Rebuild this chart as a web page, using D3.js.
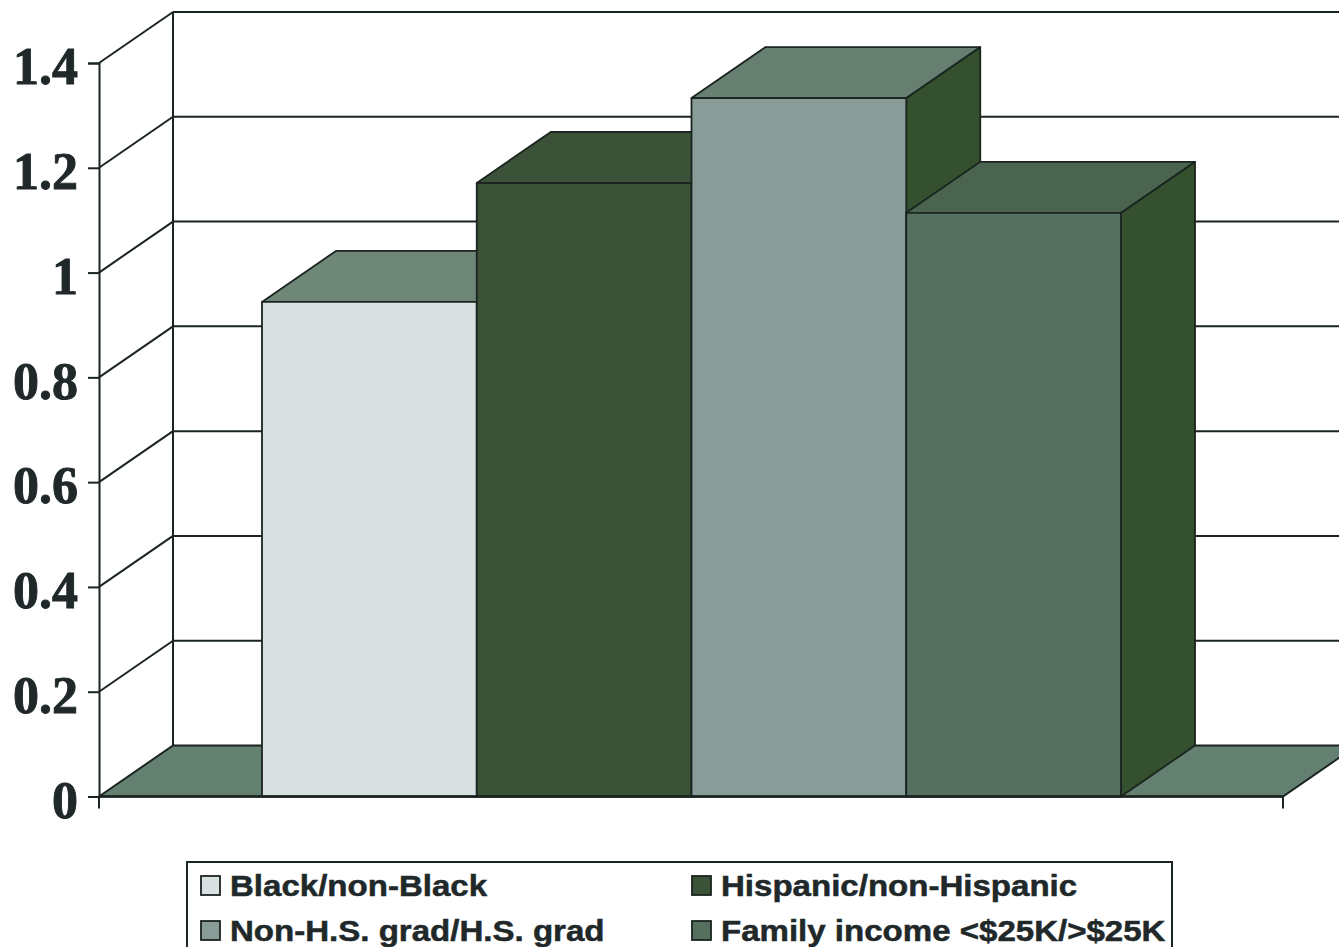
<!DOCTYPE html>
<html>
<head>
<meta charset="utf-8">
<script src="https://cdn.jsdelivr.net/npm/d3@7/dist/d3.min.js"></script>
<style>
html,body{margin:0;padding:0;background:#fff;overflow:hidden}
svg{display:block}
</style>
</head>
<body>
<svg id="chart" width="1339" height="947"></svg>
<script>
// Risk ratios by group comparison
const categories = ["Black/non-Black", "Hispanic/non-Hispanic", "Non-H.S. grad/H.S. grad", "Family income <$25K/>$25K"];
const values = [0.944, 1.171, 1.333, 1.114];
const tickValues = [0, 0.2, 0.4, 0.6, 0.8, 1, 1.2, 1.4];
const frontColors = ["#d8e0e1", "#3c5238", "#889d98", "#56705f"];
const topColors = ["#6f8777", "#3c5238", "#667f70", "#4a6450"];
const sideColor = "#34502e";
const floorColor = "#648070";
const inkColor = "#1a2420";

const svg = d3.select("#chart");
const y = d3.scaleLinear().domain([0, 1.4]).range([796.5, 63]);
const x = d3.scaleBand().domain(categories).range([262, 1121]);
const frameLeft = 99, frameRight = 1283;
const depthX = 74, depthY = -51;
const poly = pts => pts.map(p => p.join(",")).join(" ");

// floor of the 3-D box
svg.append("polygon")
  .attr("points", poly([[frameLeft, y(0)], [frameLeft + depthX, y(0) + depthY],
    [frameRight + depthX, y(0) + depthY], [frameRight, y(0)]]))
  .attr("fill", floorColor).attr("stroke", inkColor).attr("stroke-width", 2);

// back-wall gridlines and their diagonals on the side wall
svg.append("g").selectAll("line").data(tickValues.slice(1)).join("line")
  .attr("x1", frameLeft + depthX).attr("x2", 1339)
  .attr("y1", d => y(d) + depthY).attr("y2", d => y(d) + depthY)
  .attr("stroke", inkColor).attr("stroke-width", 2);
svg.append("g").selectAll("line").data(tickValues.slice(1)).join("line")
  .attr("x1", frameLeft).attr("x2", frameLeft + depthX)
  .attr("y1", d => y(d)).attr("y2", d => y(d) + depthY)
  .attr("stroke", inkColor).attr("stroke-width", 2);
svg.append("line")
  .attr("x1", frameLeft + depthX).attr("x2", frameLeft + depthX)
  .attr("y1", y(1.4) + depthY).attr("y2", y(0) + depthY)
  .attr("stroke", inkColor).attr("stroke-width", 2);

// bars, each with a top and a right-hand face, painted left to right
const bars = svg.append("g").selectAll("g").data(categories).join("g");
bars.each(function (c, i) {
  const g = d3.select(this);
  const x0 = x(c), x1 = x0 + x.bandwidth(), yt = y(values[i]), yb = y(0);
  const draw = (pts, fill) => g.append("polygon").attr("points", poly(pts)).attr("fill", fill)
    .attr("stroke", inkColor).attr("stroke-width", 1.8).attr("stroke-linejoin", "round");
  draw([[x1, yt], [x1 + depthX, yt + depthY], [x1 + depthX, yb + depthY], [x1, yb]], sideColor);
  draw([[x0, yt], [x0 + depthX, yt + depthY], [x1 + depthX, yt + depthY], [x1, yt]], topColors[i]);
  draw([[x0, yt], [x1, yt], [x1, yb], [x0, yb]], frontColors[i]);
});

// value axis
const yAxis = svg.append("g").attr("transform", `translate(${frameLeft},0)`)
  .call(d3.axisLeft(y).tickValues(tickValues).tickFormat(d => String(d)).tickSize(11).tickPadding(10));
yAxis.select(".domain").attr("stroke", inkColor).attr("stroke-width", 2);
yAxis.selectAll(".tick line").attr("stroke", inkColor).attr("stroke-width", 2);
yAxis.selectAll("text")
  .attr("font-family", "'Liberation Serif', serif").attr("font-weight", "bold")
  .attr("font-size", 52).attr("fill", "#20282a").attr("dy", "0.4em")
  .attr("stroke", "#20282a").attr("stroke-width", 0.9);

// baseline with its end ticks
svg.append("line").attr("x1", frameLeft).attr("x2", frameRight)
  .attr("y1", y(0)).attr("y2", y(0)).attr("stroke", inkColor).attr("stroke-width", 2.4);
svg.append("g").selectAll("line").data([frameLeft, frameRight]).join("line")
  .attr("x1", d => d).attr("x2", d => d).attr("y1", y(0)).attr("y2", y(0) + 12)
  .attr("stroke", inkColor).attr("stroke-width", 2);

// legend
const legend = svg.append("g");
legend.append("rect").attr("x", 187).attr("y", 862).attr("width", 985).attr("height", 100)
  .attr("fill", "#fff").attr("stroke", inkColor).attr("stroke-width", 2);
const legendX = d3.scaleOrdinal().domain([0, 1]).range([201, 692]);
const legendY = d3.scaleOrdinal().domain([0, 1]).range([886, 931]);
const entries = legend.selectAll("g").data(categories).join("g")
  .attr("transform", (c, i) => `translate(${legendX(i % 2)},${legendY(Math.floor(i / 2))})`);
entries.append("rect").attr("x", 0).attr("y", -10).attr("width", 19).attr("height", 19)
  .attr("fill", (c, i) => frontColors[i]).attr("stroke", inkColor).attr("stroke-width", 1.8);
entries.append("text").attr("transform", "translate(29,10) scale(1.14,1)")
  .attr("font-family", "'Liberation Sans', Arial, sans-serif").attr("font-weight", "bold")
  .attr("font-size", 29).attr("fill", "#20282a")
  .attr("stroke", "#20282a").attr("stroke-width", 0.5).text(c => c);
</script>
</body>
</html>
